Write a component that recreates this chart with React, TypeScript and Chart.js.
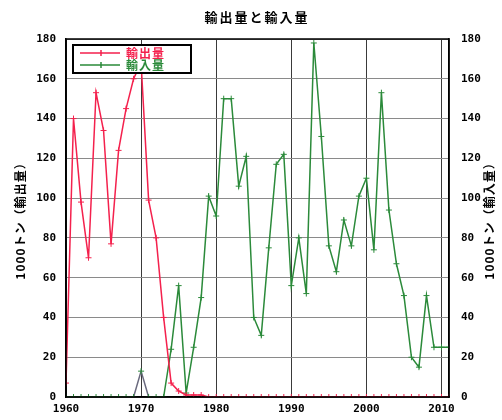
import React, { useEffect, useRef } from "react";
import { Chart, registerables } from "chart.js";

Chart.register(...registerables);

const years = [
  1960, 1961, 1962, 1963, 1964, 1965, 1966, 1967, 1968, 1969,
  1970, 1971, 1972, 1973, 1974, 1975, 1976, 1977, 1978, 1979,
  1980, 1981, 1982, 1983, 1984, 1985, 1986, 1987, 1988, 1989,
  1990, 1991, 1992, 1993, 1994, 1995, 1996, 1997, 1998, 1999,
  2000, 2001, 2002, 2003, 2004, 2005, 2006, 2007, 2008, 2009,
  2010, 2011,
];

const exportValues = [
  7, 140, 98, 70, 153, 134, 77, 124, 145, 160,
  168, 99, 80, 40, 7, 3, 1, 1, 1, 0,
  0, 0, 0, 0, 0, 0, 0, 0, 0, 0,
  0, 0, 0, 0, 0, 0, 0, 0, 0, 0,
  0, 0, 0, 0, 0, 0, 0, 0, 0, 0,
  0, 0,
];

const importValues = [
  0, 0, 0, 0, 0, 0, 0, 0, 0, 0,
  13, 0, 0, 0, 24, 56, 2, 25, 50, 101,
  91, 150, 150, 106, 121, 40, 31, 75, 117, 122,
  56, 80, 52, 178, 131, 76, 63, 89, 76, 101,
  110, 74, 153, 94, 67, 51, 20, 15, 51, 25,
  25, 25,
];

const xTicks = [1960, 1970, 1980, 1990, 2000, 2010];
const yTicks = [0, 20, 40, 60, 80, 100, 120, 140, 160, 180];

const titleText = "輸出量と輸入量";
const leftAxisTitle = "1000トン（輸出量）";
const rightAxisTitle = "1000トン（輸入量）";
const seriesNames = ["輸出量", "輸入量"];

const RED = "#f4214d";
const GREEN = "#2b8a3a";
const CJK = "'Noto Sans CJK JP', 'Noto Sans', sans-serif";
const MONO = "'DejaVu Sans Mono', monospace";

const tickFont = { family: MONO, size: 11, weight: "bold" as const };

const decorPlugin = {
  id: "decor",
  afterDraw(chart: any) {
    const ctx = chart.ctx as CanvasRenderingContext2D;
    const a = chart.chartArea;
    ctx.save();
    // frame
    ctx.strokeStyle = "#000";
    ctx.lineWidth = 1.5;
    ctx.strokeRect(a.left, a.top, a.right - a.left, a.bottom - a.top);

    // title
    ctx.fillStyle = "#000";
    ctx.font = `bold 13px ${CJK}`;
    ctx.textAlign = "center";
    ctx.textBaseline = "middle";
    (ctx as any).letterSpacing = "2px";
    ctx.fillText(titleText, 257, 17);

    // axis titles
    ctx.font = `bold 12px ${CJK}`;
    (ctx as any).letterSpacing = "1px";
    const cy = (a.top + a.bottom) / 2;
    ctx.save();
    ctx.translate(20, cy);
    ctx.rotate(-Math.PI / 2);
    ctx.fillText(leftAxisTitle, 0, 0);
    ctx.restore();
    ctx.save();
    ctx.translate(489, cy);
    ctx.rotate(-Math.PI / 2);
    ctx.fillText(rightAxisTitle, 0, 0);
    ctx.restore();
    (ctx as any).letterSpacing = "0px";

    // legend
    const bx = a.left + 7;
    const by = a.top + 6;
    const bw = 118;
    const bh = 28;
    ctx.fillStyle = "#fff";
    ctx.fillRect(bx, by, bw, bh);
    ctx.strokeStyle = "#000";
    ctx.lineWidth = 2;
    ctx.strokeRect(bx, by, bw, bh);
    const colors = [RED, GREEN];
    seriesNames.forEach((name, i) => {
      const y = by + 8 + i * 12;
      ctx.strokeStyle = colors[i];
      ctx.lineWidth = 1.5;
      ctx.beginPath();
      ctx.moveTo(bx + 7, y);
      ctx.lineTo(bx + 47, y);
      ctx.moveTo(bx + 28, y - 3);
      ctx.lineTo(bx + 28, y + 3);
      ctx.stroke();
      ctx.fillStyle = colors[i];
      ctx.font = `bold 12px ${CJK}`;
      ctx.textAlign = "left";
      ctx.textBaseline = "middle";
      (ctx as any).letterSpacing = "1px";
      ctx.fillText(name, bx + 53, y);
      (ctx as any).letterSpacing = "0px";
    });
    ctx.restore();
  },
};

export default function App() {
  const ref = useRef<HTMLCanvasElement | null>(null);

  useEffect(() => {
    if (!ref.current) return;
    const chart = new Chart(ref.current, {
      type: "line",
      data: {
        datasets: [
          {
            label: seriesNames[0],
            data: years.map((x, i) => ({ x, y: exportValues[i] })),
            borderColor: RED,
            backgroundColor: RED,
            borderWidth: 1.5,
            pointStyle: "cross",
            pointRadius: 3,
            pointBorderWidth: 1,
            pointBorderColor: RED,
            tension: 0,
            yAxisID: "y",
          },
          {
            label: seriesNames[1],
            data: years.map((x, i) => ({ x, y: importValues[i] })),
            borderColor: GREEN,
            backgroundColor: GREEN,
            borderWidth: 1.5,
            pointStyle: "cross",
            pointRadius: 3,
            pointBorderWidth: 1,
            pointBorderColor: GREEN,
            tension: 0,
            yAxisID: "y1",
            segment: {
              borderColor: (c: any) =>
                c.p0.parsed.x >= 1969 && c.p1.parsed.x <= 1971 ? "#6a6a7e" : undefined,
            },
          },
        ],
      },
      options: {
        responsive: false,
        animation: false,
        layout: { padding: { top: 39, left: 0, right: 0, bottom: 0 } },
        plugins: {
          legend: { display: false },
          title: { display: false },
          tooltip: { enabled: false },
        },
        scales: {
          x: {
            type: "linear",
            min: 1960,
            max: 2011,
            afterBuildTicks: (s: any) => {
              s.ticks = xTicks.map((v) => ({ value: v }));
            },
            afterFit: (s: any) => {
              s.height = 23;
            },
            ticks: {
              color: "#000",
              font: tickFont,
              padding: 6,
              maxRotation: 0,
              callback: (v: any) => String(v),
            },
            grid: { color: "#3a3a3a", lineWidth: 1, drawTicks: false },
            border: { display: true, color: "#000", width: 1.5 },
          },
          y: {
            type: "linear",
            position: "left",
            min: 0,
            max: 180,
            afterBuildTicks: (s: any) => {
              s.ticks = yTicks.map((v) => ({ value: v }));
            },
            afterFit: (s: any) => {
              s.width = 66;
            },
            ticks: { color: "#000", font: tickFont, padding: 10 },
            grid: { color: "#8a8a8a", lineWidth: 1, drawTicks: false },
            border: { display: true, color: "#000", width: 1.5 },
          },
          y1: {
            type: "linear",
            position: "right",
            min: 0,
            max: 180,
            afterBuildTicks: (s: any) => {
              s.ticks = yTicks.map((v) => ({ value: v }));
            },
            afterFit: (s: any) => {
              s.width = 53;
            },
            ticks: { color: "#000", font: tickFont, padding: 12 },
            grid: { display: false, drawTicks: false },
            border: { display: true, color: "#000", width: 1.5 },
          },
        },
      },
      plugins: [decorPlugin],
    });
    return () => chart.destroy();
  }, []);

  return (
    <div style={{ position: "fixed", left: 0, top: 0, width: 502, height: 420, background: "#fff" }}>
      <canvas ref={ref} width={502} height={420} style={{ display: "block" }} />
    </div>
  );
}
